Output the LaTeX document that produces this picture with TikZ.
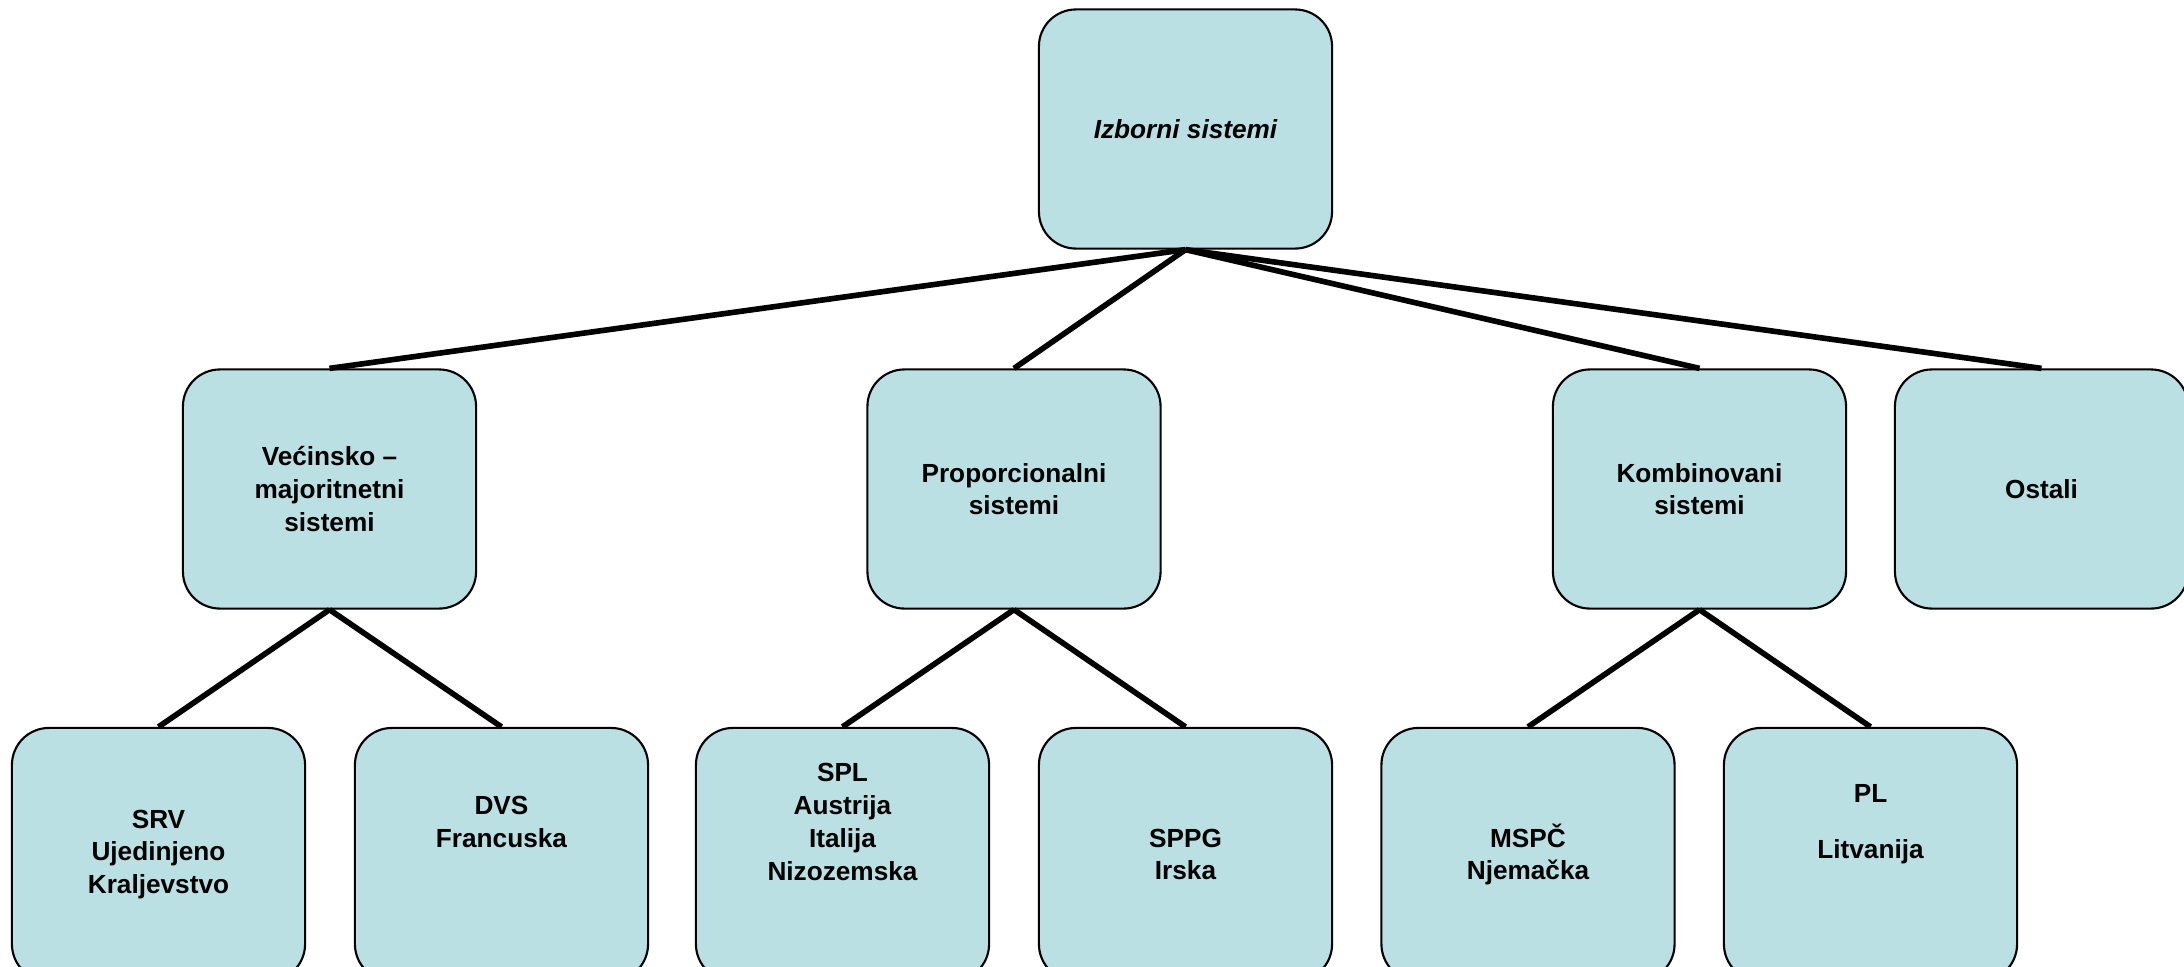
\documentclass[tikz,border=0pt]{standalone}
\usepackage{fontspec}
\setmainfont{Liberation Sans}
\definecolor{boxfill}{RGB}{187,224,227}
\begin{document}
\begin{tikzpicture}[x=0.01cm,y=-0.01cm,
  box/.style={draw=black, line width=0.6pt, fill=boxfill, rounded corners=0.37cm,
    minimum width=2.93cm, minimum height=2.39cm, inner sep=0pt, align=center,
    font=\fontsize{7.45}{9.3}\selectfont\bfseries},
  lowbox/.style={box, minimum height=2.53cm},
  link/.style={line width=1.6pt, black}]
\useasboundingbox (0,0) rectangle (2184,966);
% top
\node[box, font=\fontsize{7.45}{9.3}\selectfont\bfseries\itshape] (top) at (1185.5,129) {Izborni sistemi};
% level 2
\node[box] (veci) at (329.5,489) {Većinsko –\\majoritnetni\\sistemi};
\node[box] (prop) at (1014,489) {Proporcionalni\\sistemi};
\node[box] (komb) at (1699.5,489) {Kombinovani\\sistemi};
\node[box] (ost) at (2041.5,489) {Ostali};
% level 3
\node[lowbox] (srv) at (158.5,854.5) {SRV\\Ujedinjeno\\Kraljevstvo};
\node[lowbox] (dvs) at (501.5,854.5) {DVS\\Francuska\\~\\~};
\node[lowbox] (spl) at (842.5,854.5) {SPL\\Austrija\\Italija\\Nizozemska\\~\\~};
\node[lowbox] (sppg) at (1185.5,854.5) {SPPG\\Irska};
\node[lowbox] (mspc) at (1528,854.5) {MSPČ\\Njemačka};
\node[lowbox] (pl) at (1870.5,854.5) {PL\\[6.6pt]Litvanija\\~\\~};
% connectors
\draw[link] (top.south) -- (veci.north);
\draw[link] (top.south) -- (prop.north);
\draw[link] (top.south) -- (komb.north);
\draw[link] (top.south) -- (ost.north);
\draw[link] (veci.south) -- (srv.north);
\draw[link] (veci.south) -- (dvs.north);
\draw[link] (prop.south) -- (spl.north);
\draw[link] (prop.south) -- (sppg.north);
\draw[link] (komb.south) -- (mspc.north);
\draw[link] (komb.south) -- (pl.north);
\end{tikzpicture}
\end{document}
